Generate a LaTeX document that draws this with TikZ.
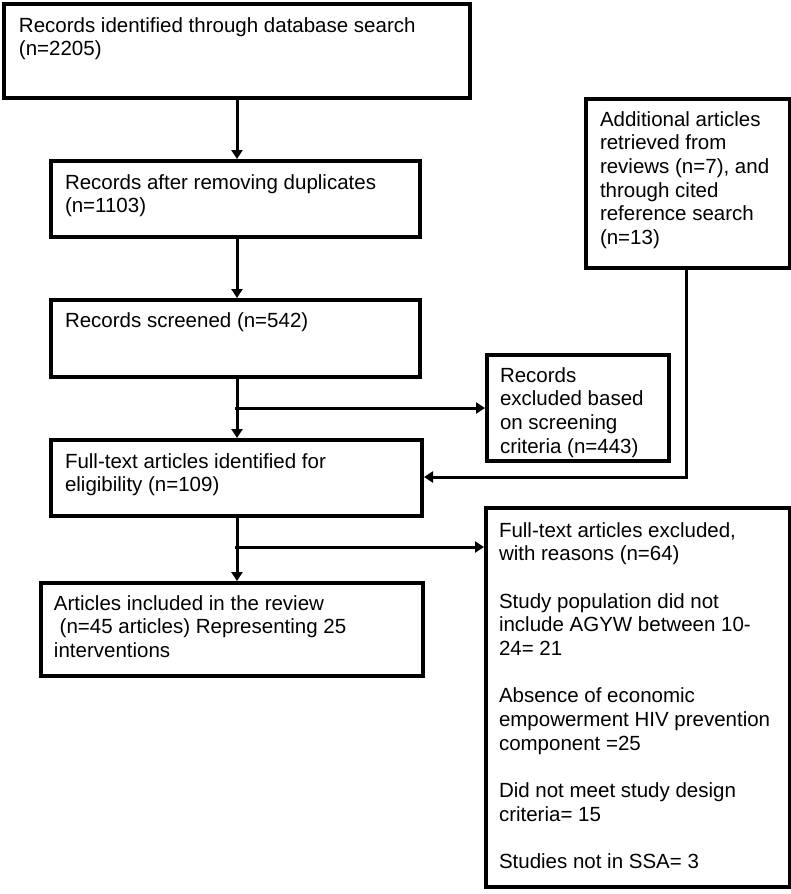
\documentclass[tikz,border=0pt]{standalone}
\usepackage{fontspec}
\setmainfont{Liberation Sans}
\usetikzlibrary{arrows.meta}
\newcommand{\bxt}[5]{\parbox[b][#2pt][t]{#1pt}{\raggedright\leftskip=#3pt\rightskip=-100pt plus 1fil\rule{0pt}{#4pt}#5}}
\begin{document}
\begin{tikzpicture}[x=1pt,y=-1pt,
  box/.style={draw, line width=4pt, inner sep=0pt, anchor=north west, font=\fontsize{20.5}{23.7}\selectfont},
  conn/.style={line width=3pt, -{Triangle[length=9pt,width=11pt]}}]
\useasboundingbox (0,0) rectangle (791,894);
\node[box] (b1) at (2,2) {\bxt{466}{94}{15}{28}{Records identified through database search\\(n=2205)}};
\node[box] (b2) at (49,159) {\bxt{369}{76}{14}{28}{Records after removing duplicates\\(n=1103)}};
\node[box] (b3) at (49,298) {\bxt{369}{77}{14}{27}{Records screened (n=542)}};
\node[box] (b4) at (49,438) {\bxt{371}{76}{14}{28}{Full-text articles identified for\\eligibility (n=109)}};
\node[box] (b5) at (39,581) {\bxt{382}{93}{13}{27}{Articles included in the review\\\hspace*{5.7pt}(n=45 articles) Representing 25\\interventions}};
\node[box] (ex1) at (485,353) {\bxt{182}{106}{13}{27}{Records\\excluded based\\on screening\\criteria (n=443)}};
\node[box] (ad) at (584,97) {\bxt{204}{169}{14}{27}{Additional articles\\retrieved from\\reviews (n=7), and\\through cited\\reference search\\(n=13)}};
\node[box] (ex2) at (484,506) {\bxt{304}{379}{13}{29}{Full-text articles excluded,\\with reasons (n=64)\\[23.7pt]Study population did not\\include AGYW between 10-\\24= 21\\[23.7pt]Absence of economic\\empowerment HIV prevention\\component =25\\[23.7pt]Did not meet study design\\criteria= 15\\[23.7pt]Studies not in SSA= 3}};
\draw[conn] (b1.south) -- (b1.south |- b2.north);
\draw[conn] (b1.south |- b2.south) -- (b1.south |- b3.north);
\draw[conn] (b1.south |- b3.south) -- (b1.south |- b4.north);
\coordinate (j1) at (235,408);
\draw[conn] (j1) -- (j1 -| ex1.west);
\draw[conn] (b1.south |- b4.south) -- (b1.south |- b5.north);
\coordinate (j2) at (235,547);
\draw[conn] (j2) -- (j2 -| ex2.west);
\coordinate (k) at (686,477);
\draw[conn] (k |- ad.south) -- (k) -- (k -| b4.east);
\end{tikzpicture}
\end{document}
